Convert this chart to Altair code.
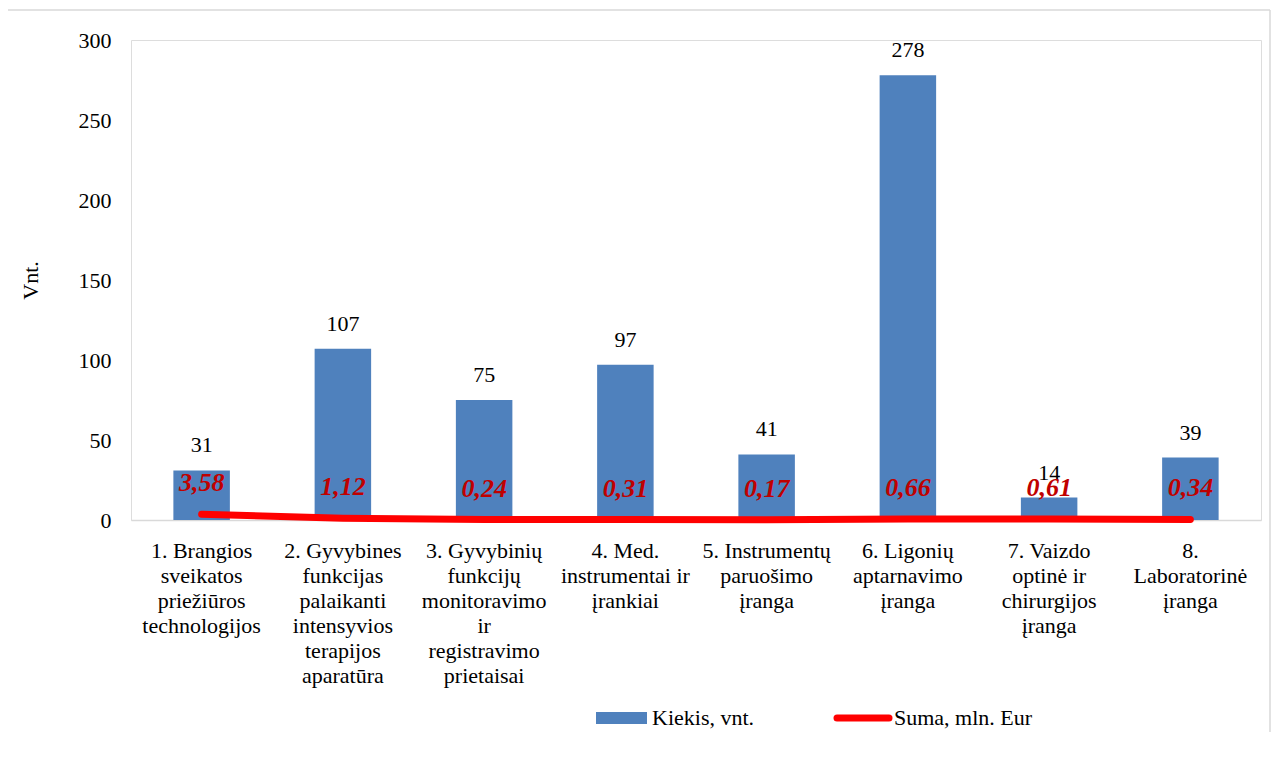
import altair as alt
import pandas as pd

categories = [
    "1. Brangios\nsveikatos\npriežiūros\ntechnologijos",
    "2. Gyvybines\nfunkcijas\npalaikanti\nintensyvios\nterapijos\naparatūra",
    "3. Gyvybinių\nfunkcijų\nmonitoravimo\nir\nregistravimo\nprietaisai",
    "4. Med.\ninstrumentai ir\nįrankiai",
    "5. Instrumentų\nparuošimo\nįranga",
    "6. Ligonių\naptarnavimo\nįranga",
    "7. Vaizdo\noptinė ir\nchirurgijos\nįranga",
    "8.\nLaboratorinė\nįranga",
]
kiekis = [31, 107, 75, 97, 41, 278, 14, 39]
suma = [3.58, 1.12, 0.24, 0.31, 0.17, 0.66, 0.61, 0.34]
suma_labels = ["3,58", "1,12", "0,24", "0,31", "0,17", "0,66", "0,61", "0,34"]
legend_labels = ["Kiekis, vnt.", "Suma, mln. Eur"]

df = pd.DataFrame({
    "cat": categories,
    "kiekis": kiekis,
    "suma": suma,
    "suma_lbl": suma_labels,
})

FONT = "'Liberation Serif', 'Times New Roman', Times, serif"
W, H = 1130, 480

x = alt.X(
    "cat:N",
    sort=categories,
    scale=alt.Scale(paddingInner=0.6, paddingOuter=0.3),
    axis=alt.Axis(
        title=None,
        labelAngle=0,
        labelExpr="split(datum.label, '\\n')",
        labelLineHeight=25,
        labelFontSize=22,
        labelFont=FONT,
        labelColor="black",
        labelPadding=20,
        labelLimit=400,
        ticks=False,
        domainColor="#d9d9d9",
        domainWidth=1.5,
        labelBaseline="top",
    ),
)

y_scale = alt.Scale(domain=[0, 300])

bars = alt.Chart(df).mark_bar(color="#4F81BD").encode(
    x=x,
    y=alt.Y(
        "kiekis:Q",
        scale=y_scale,
        axis=alt.Axis(
            title="Vnt.",
            values=[0, 50, 100, 150, 200, 250, 300],
            grid=False,
            domain=False,
            ticks=False,
            labelPadding=20,
            labelFontSize=22,
            labelFont=FONT,
            labelColor="black",
            titleFont=FONT,
            titleFontSize=22,
            titleFontWeight="normal",
            titleColor="black",
            titleX=-101,
            titleY=240,
            titleAngle=-90,
            titleAlign="center",
            titleBaseline="middle",
        ),
    ),
)

bar_text = alt.Chart(df).mark_text(
    font=FONT, fontSize=22, color="black", baseline="middle", dy=-25
).encode(x=alt.X("cat:N", sort=categories), y=alt.Y("kiekis:Q", scale=y_scale), text="kiekis:Q")

line = alt.Chart(df).mark_line(color="#FF0000", strokeWidth=7, strokeCap="round").encode(
    x=alt.X("cat:N", sort=categories),
    y=alt.Y("suma:Q", scale=y_scale),
)

line_text = alt.Chart(df).mark_text(
    font=FONT, fontSize=26, fontStyle="italic", fontWeight="bold",
    color="#C00000", baseline="middle", dy=-31
).encode(x=alt.X("cat:N", sort=categories), y=alt.Y("suma:Q", scale=y_scale), text="suma_lbl:N")

# legend (manual, mimicking the original)
leg_df = pd.DataFrame({"lbl": legend_labels})
leg_rect = alt.Chart(leg_df.iloc[[0]]).mark_rect(color="#4F81BD").encode(
    x=alt.value(465), x2=alt.value(516), y=alt.value(672), y2=alt.value(684)
)
leg_text1 = alt.Chart(leg_df.iloc[[0]]).mark_text(
    font=FONT, fontSize=22, color="black", align="left", baseline="middle"
).encode(x=alt.value(521), y=alt.value(678), text="lbl:N")
leg_line = alt.Chart(leg_df.iloc[[1]]).mark_rule(color="#FF0000", strokeWidth=7, strokeCap="round").encode(
    x=alt.value(706), x2=alt.value(758), y=alt.value(678)
)
leg_text2 = alt.Chart(leg_df.iloc[[1]]).mark_text(
    font=FONT, fontSize=22, color="black", align="left", baseline="middle"
).encode(x=alt.value(763), y=alt.value(678), text="lbl:N")

# chart frame
frame_left = alt.Chart(leg_df.iloc[[0]]).mark_rule(color="#d9d9d9", strokeWidth=1.5).encode(
    x=alt.value(-126), y=alt.value(-30), y2=alt.value(720)
)
frame_top = alt.Chart(leg_df.iloc[[0]]).mark_rule(color="#d9d9d9", strokeWidth=1.5).encode(
    x=alt.value(-126), x2=alt.value(1139), y=alt.value(-30)
)
frame_right = alt.Chart(leg_df.iloc[[0]]).mark_rule(color="#d9d9d9", strokeWidth=1.5).encode(
    x=alt.value(1139), y=alt.value(-30), y2=alt.value(720)
)

chart = alt.layer(
    frame_left, frame_top, frame_right,
    bars, bar_text, line, line_text,
    leg_rect, leg_text1, leg_line, leg_text2,
).properties(
    width=W,
    height=H,
    autosize=alt.AutoSizeParams(type="none"),
    padding={"left": 123, "top": 32, "right": 10, "bottom": 212},
).configure_view(stroke=None).configure(background="white")

chart.save("out.html", embed_options={"renderer": "svg", "actions": False})
